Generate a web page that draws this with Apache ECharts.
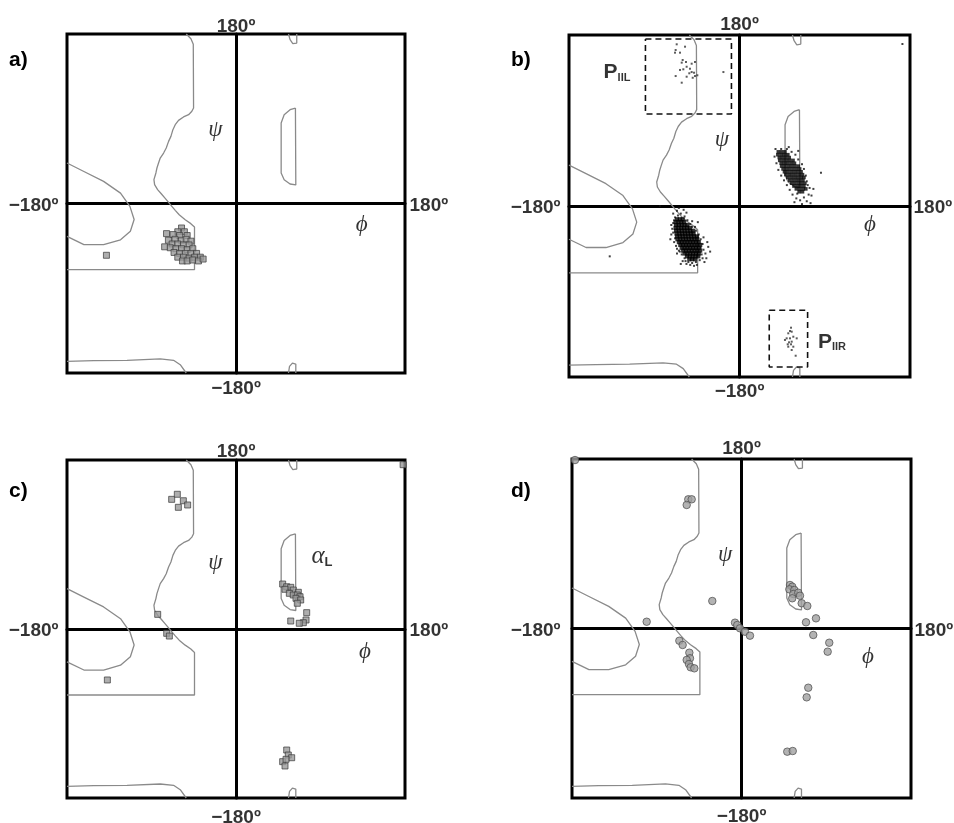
<!DOCTYPE html>
<html><head><meta charset="utf-8">
<script src="https://cdn.jsdelivr.net/npm/echarts@6/dist/echarts.min.js"></script>
<style>html,body{margin:0;padding:0;background:#fff}#c{width:954px;height:823px}</style>
</head><body><div id="c"></div>
<script>
// ---- tick labels / texts ----
const tickTop = '180º', tickBottom = '−180º', tickLeft = '−180º', tickRight = '180º';
const panelLetters = ['a)', 'b)', 'c)', 'd)'];
const psiText = 'ψ', phiText = 'ϕ';

// ---- allowed-region contours [phi, psi] ----
const contourMain = [[-53,180],[-48,175],[-45.5,169],[-45.2,101.4],[-47,97.9],[-50.5,94.3],[-55.9,91.9],[-61.2,88.3],[-64.7,83.7],[-67.2,78.4],[-69.3,71.3],[-71.8,66],[-74.3,58.9],[-77.1,53.6],[-80.7,48.3],[-82.5,43],[-84.2,37.7],[-85.3,32.4],[-87.4,25.3],[-86.7,20],[-83.5,14.7],[-79.6,10.4],[-75.4,5.5],[-71.8,1.2],[-68.3,-3],[-64.7,-7.3],[-60.5,-11.9],[-54.1,-17.2],[-48.1,-21.4],[-44.2,-25],[-44.2,-70.3],[-180,-70.3]];
const contourBulge = [[-180,43],[-162,34],[-141,23.5],[-123,11],[-113,-3],[-108.5,-17],[-112.5,-29.5],[-123,-38.5],[-141,-43.7],[-162,-43.7],[-180,-35]];
const contourBottom = [[-180,-167.6],[-151.6,-166.9],[-116,-166.5],[-80.7,-165.1],[-66.5,-166.5],[-59.4,-171.2],[-53,-180]];
const contourAlphaL = [[63.3,101.4],[57.6,99.6],[51.3,94.3],[48.1,85.5],[48.1,32.4],[51.3,25.3],[57.6,20.7],[63.7,19.7],[63.3,101.4]];
const contourTopBump = [[55.9,180],[57.6,174],[60.5,169.7],[64.7,170.4],[64.7,180]];
const contourBottomBump = [[55.9,-180],[57,-173],[60.1,-169.5],[63.7,-170.5],[63.7,-180]];

// ---- panel a: squares ----
const aPoints = [[-58,-26],[-62,-30],[-55,-30],[-74,-32],[-67,-33],[-60,-34],[-52,-34],[-72,-39],[-65,-38],[-58,-39],[-53,-38],[-48,-40],[-68,-43],[-62,-43],[-56,-44],[-50,-44],[-76,-46],[-70,-47],[-64,-48],[-58,-48],[-52,-49],[-46,-48],[-66,-52],[-60,-53],[-54,-53],[-48,-53],[-42,-53],[-62,-57],[-56,-57],[-50,-58],[-44,-57],[-38,-57],[-57,-61],[-52,-61],[-46,-60],[-40,-61],[-35,-59],[-138,-55]];

// ---- panel b: dots ----
const bCoreLeft = [
 [-66,-14],[-63,-14],[-60,-14],
 [-67.5,-17],[-64.5,-17],[-61.5,-17],[-58.5,-17],
 [-67,-20],[-64,-20],[-61,-20],[-58,-20],[-55,-20],
 [-67.5,-23],[-64.5,-23],[-61.5,-23],[-58.5,-23],[-55.5,-23],[-52.5,-23],
 [-67,-26],[-64,-26],[-61,-26],[-58,-26],[-55,-26],[-52,-26],[-49,-26],
 [-66.5,-29],[-63.5,-29],[-60.5,-29],[-57.5,-29],[-54.5,-29],[-51.5,-29],[-48.5,-29],
 [-66,-32],[-63,-32],[-60,-32],[-57,-32],[-54,-32],[-51,-32],[-48,-32],[-45,-32],
 [-65.5,-35],[-62.5,-35],[-59.5,-35],[-56.5,-35],[-53.5,-35],[-50.5,-35],[-47.5,-35],[-44.5,-35],
 [-64,-38],[-61,-38],[-58,-38],[-55,-38],[-52,-38],[-49,-38],[-46,-38],[-43,-38],
 [-62.5,-41],[-59.5,-41],[-56.5,-41],[-53.5,-41],[-50.5,-41],[-47.5,-41],[-44.5,-41],[-41.5,-41],
 [-61,-44],[-58,-44],[-55,-44],[-52,-44],[-49,-44],[-46,-44],[-43,-44],
 [-59.5,-47],[-56.5,-47],[-53.5,-47],[-50.5,-47],[-47.5,-47],[-44.5,-47],[-41.5,-47],
 [-58,-50],[-55,-50],[-52,-50],[-49,-50],[-46,-50],[-43,-50],
 [-55.5,-53],[-52.5,-53],[-49.5,-53],[-46.5,-53],[-43.5,-53],
 [-53,-56],[-50,-56],[-47,-56]];
const bHaloLeft = [[-70,-8],[-72,-20],[-73,-35],[-68,-12],[-66,-5],[-62,-8],[-58,-11],[-55,-15],[-52,-19],[-50,-22],[-46,-26],[-43,-30],[-41,-35],[-39,-40],[-38,-46],[-36,-50],[-33,-43],[-31,-48],[-39,-55],[-42,-57],[-46,-59],[-50,-60],[-54,-59],[-58,-55],[-61,-51],[-64,-47],[-67,-42],[-69,-38],[-70,-28],[-70,-18],[-65,-10],[-56,-7],[-47,-22],[-40,-51],[-35,-55],[-52,-62],[-48,-63],[-60,-58],[-71,-24],[-66,-50],[-44,-17],[-62,-61],[-34,-38],[-37,-59],[-59,-4],[-64,-2],[-57,-58],[-41,-44],[-63,-48],[-68,-34],[-66,-45],[-69,-15],[-72,-30],[-50,-16],[-38,-33],[-56,-61],[-45,-62],[-137,-53],[-84,0]];
const bCoreRight = [
 [41,57],[44.5,57],[48,57],
 [40.5,54],[44,54],[47.5,54],[51,54],
 [42,51],[45.5,51],[49,51],[52.5,51],
 [42.5,48],[46,48],[49.5,48],[53,48],[56.5,48],
 [44,45],[47.5,45],[51,45],[54.5,45],[58,45],
 [44.5,42],[48,42],[51.5,42],[55,42],[58.5,42],[62,42],
 [46,39],[49.5,39],[53,39],[56.5,39],[60,39],[63.5,39],
 [47.5,36],[51,36],[54.5,36],[58,36],[61.5,36],[65,36],
 [49,33],[52.5,33],[56,33],[59.5,33],[63,33],[66.5,33],
 [51,30],[54.5,30],[58,30],[61.5,30],[65,30],[68,30],
 [53,27],[56.5,27],[60,27],[63.5,27],[67,27],
 [55,24],[58.5,24],[62,24],[65.5,24],[69,24],
 [57.5,21],[61,21],[64.5,21],[68,21],
 [60,18],[63.5,18],[67,18],[70,18],
 [63,15],[66.5,15]];
const bHaloRight = [[38,60],[37,52],[39,45],[41,38],[44,32],[47,27],[50,22],[53,17],[56,12],[60,8],[64,6],[68,9],[71,5],[73,12],[74,19],[71,26],[70,32],[68,39],[66,44],[62,49],[59,54],[55,57],[50,60],[86,35],[72,22],[61,13],[44,60],[76,11],[75,3],[66,2],[58,4],[52,62],[62,58],[78,18],[172,170.5]];
const bPIIL = [[-66.3,170.2],[-67.4,164.2],[-68.1,161.4],[-62.8,161.4],[-57.5,167.7],[-60,153.7],[-56.5,151.6],[-61,150.9],[-50.5,149.8],[-55.8,146.6],[-59.3,143.9],[-62.8,143.2],[-52.3,144.5],[-50.5,141],[-53,139.7],[-48,140.3],[-47,136.8],[-49.4,135],[-44.5,137.6],[-67.4,136.8],[-55.8,136.1],[-61,129.8],[-17,141],[-47,151.6]];
const bPIIR = [[54.4,-128.1],[53.3,-131.6],[55.1,-132.3],[51.5,-134],[49.8,-139.3],[53.3,-139.3],[56.8,-137.6],[48,-141],[52.3,-143.5],[55.1,-142.8],[50.9,-145.6],[54.4,-145.6],[51.5,-148.1],[56.8,-148.1],[60.4,-139.3],[55.1,-151.6],[59.3,-157.6]];
const boxPIIL = [[-99.3,175.8],[-8.5,175.8],[-8.5,96.8],[-99.3,96.8],[-99.3,175.8]];
const boxPIIR = [[31.4,-109.8],[71.9,-109.8],[71.9,-169.5],[31.4,-169.5],[31.4,-109.8]];

// ---- panel c: squares ----
const cPoints = [[-68.5,138.1],[-62.5,143.5],[-56.1,136.6],[-51.5,132.1],[-61.4,129.6],[-83.4,15.6],[-73.8,-4.6],[-71,-7.5],[-137,-54.3],[178,175],[49.7,47.9],[54,45],[58.3,44.4],[61,41.5],[66.4,39.1],[52.2,42.3],[56.8,38],[61,36.2],[65.3,36.2],[68.2,34.4],[63.9,32.7],[68.9,30.9],[65.3,27.4],[75.3,17.4],[74.6,9.6],[71.7,6.7],[67.4,6.1],[58.3,8.5],[54,-128.9],[55.7,-134.2],[59.3,-137.1],[49.7,-141.3],[52.2,-145.9],[53.3,-138.8]];

// ---- panel d: circles ----
const dPoints = [[-176.8,178.9],[-56.5,137.2],[-52.9,137.2],[-58.2,131.2],[-31,29.2],[-100.7,7.2],[-6.9,6.2],[-4.5,3.7],[-1.6,0.2],[3.7,-3.4],[9,-7.6],[-66,-13],[-62.5,-17.5],[-55.4,-25.7],[-54.7,-31.6],[-58.2,-33.4],[-55.8,-37.7],[-54,-41.2],[-50.1,-42.3],[51.5,46.2],[53.9,44.4],[50.8,41.6],[56.1,40.9],[55,36.6],[53.9,32.1],[60.3,38],[62.1,34.8],[63.9,26.8],[69.9,23.9],[68.5,6.6],[79.1,10.8],[76.2,-6.9],[93.2,-15.1],[91.5,-24.6],[70.9,-62.9],[69.2,-73.1],[48.6,-130.8],[54.4,-130.1]];

// ---- text annotation anchors [phi, psi] ----
const psiAnchor = [[-22,78],[-18.5,69.5],[-22,70],[-17.5,78]];
const phiAnchor = [[134,-22.8],[137.8,-20],[137.4,-24.5],[134.3,-30.3]];
const piilAnchor = [-129.3,142], piirAnchor = [97.6,-142], alphaLAnchor = [91.6,76.7];

const grids = [
  {left:67, top:34, width:338, height:339},
  {left:569, top:35, width:341, height:342},
  {left:67, top:460, width:338, height:338},
  {left:572, top:459, width:339, height:339}
];
const tickGaps = [
  {top:-3, bottom:6, left:8, right:4},
  {top:0, bottom:5, left:8, right:3},
  {top:-1.5, bottom:10, left:8, right:4},
  {top:0, bottom:9, left:11, right:3}
];
const sansBold = {fontFamily:'"Liberation Sans", Arial, sans-serif', fontWeight:'bold'};
const serifIt = {fontFamily:'"Liberation Serif", "DejaVu Serif", serif', fontStyle:'italic', fontWeight:'normal'};

const series = [];
function lineSer(i, data, extra) {
  series.push(Object.assign({type:'line', xAxisIndex:i, yAxisIndex:i, data:data, showSymbol:false, symbol:'none',
    silent:true, clip:true, z:2, animation:false,
    lineStyle:{color:'#8a8a8a', width:1.3}}, extra || {}));
}
for (let i = 0; i < 4; i++) {
  [contourMain, contourBulge, contourBottom, contourAlphaL, contourTopBump, contourBottomBump].forEach(c => lineSer(i, c));
}
lineSer(1, boxPIIL, {lineStyle:{color:'#111', width:1.6, type:[6,4]}});
lineSer(1, boxPIIR, {lineStyle:{color:'#111', width:1.6, type:[6,4]}});

function scat(i, data, symbol, size, style) {
  series.push({type:'scatter', xAxisIndex:i, yAxisIndex:i, data:data, symbol:symbol, symbolSize:size,
    itemStyle:style, silent:true, z:3, animation:false});
}
const sqStyle = {color:'#9a9a9a', borderColor:'#3a3a3a', borderWidth:0.9};
scat(0, aPoints, 'rect', 6, sqStyle);
scat(1, bHaloLeft, 'rect', 2, {color:'#111'});
scat(1, bHaloRight, 'rect', 2, {color:'#111'});
scat(1, bCoreLeft, 'rect', 4.2, {color:'#000'});
scat(1, bCoreRight, 'rect', 3.6, {color:'#050505'});
scat(1, bPIIL, 'rect', 2, {color:'#333'});
scat(1, bPIIR, 'rect', 2, {color:'#333'});
scat(2, cPoints, 'rect', 6, sqStyle);
scat(3, dPoints, 'circle', 7.5, {color:'#a0a0a0', borderColor:'#4a4a4a', borderWidth:0.9});

// text labels placed through the axes
for (let i = 0; i < 4; i++) {
  const g = tickGaps[i];
  const items = [
    {value:[0,180], label:{position:'top', distance:g.top, formatter:tickTop}},
    {value:[0,-180], label:{position:'bottom', distance:g.bottom, formatter:tickBottom}},
    {value:[-180,0], label:{position:'left', distance:g.left, offset:[0,2], formatter:tickLeft}},
    {value:[180,0], label:{position:'right', distance:g.right, offset:[0,2], formatter:tickRight}},
    {value:psiAnchor[i], label:Object.assign({position:'inside', formatter:psiText, fontSize:23}, serifIt)},
    {value:phiAnchor[i], label:Object.assign({position:'inside', formatter:phiText, fontSize:23}, serifIt)}
  ];
  if (i === 1) {
    items.push({value:piilAnchor, label:{position:'inside', formatter:'{p|P}{s|IIL}'}});
    items.push({value:piirAnchor, label:{position:'inside', formatter:'{p|P}{s|IIR}'}});
  }
  if (i === 2) {
    items.push({value:alphaLAnchor, label:{position:'inside', formatter:'{a|α}{l|L}'}});
  }
  series.push({type:'scatter', xAxisIndex:i, yAxisIndex:i, data:items, symbol:'rect', symbolSize:1,
    itemStyle:{color:'rgba(0,0,0,0)'}, silent:true, clip:false, z:6, animation:false,
    label:Object.assign({show:true, color:'#000', fontSize:19,
      rich:{
        p:Object.assign({fontSize:21, lineHeight:24, verticalAlign:'bottom', color:'#000'}, sansBold),
        s:Object.assign({fontSize:11, lineHeight:6, verticalAlign:'bottom', color:'#000'}, sansBold),
        a:Object.assign({fontSize:25, lineHeight:24, verticalAlign:'bottom', color:'#000'}, serifIt),
        l:Object.assign({fontSize:13, lineHeight:6, verticalAlign:'bottom', color:'#000'}, sansBold)
      }}, sansBold)});
}

const xAxis = [], yAxis = [];
for (let i = 0; i < 4; i++) {
  const base = {gridIndex:i, type:'value', min:-180, max:180, interval:180,
    axisLine:{show:true, onZero:true, lineStyle:{color:'#000', width:3}},
    axisTick:{show:false}, axisLabel:{show:false}, splitLine:{show:false}};
  xAxis.push(Object.assign({}, base));
  yAxis.push(Object.assign({}, base));
}

const chart = echarts.init(document.getElementById('c'), null, {renderer:'canvas'});
const letterFont = 'bold 21px "Liberation Sans", Arial';
chart.setOption({
  animation:false,
  backgroundColor:'#fff',
  grid: grids.map(g => Object.assign({show:true, borderColor:'#000', borderWidth:3, backgroundColor:'transparent'}, g)),
  xAxis: xAxis, yAxis: yAxis,
  series: series,
  graphic: [
    {type:'text', left:9, top:50, style:{text:panelLetters[0], font:letterFont, fill:'#000'}},
    {type:'text', left:511, top:50, style:{text:panelLetters[1], font:letterFont, fill:'#000'}},
    {type:'text', left:9, top:481, style:{text:panelLetters[2], font:letterFont, fill:'#000'}},
    {type:'text', left:511, top:481, style:{text:panelLetters[3], font:letterFont, fill:'#000'}}
  ]
});
</script></body></html>
